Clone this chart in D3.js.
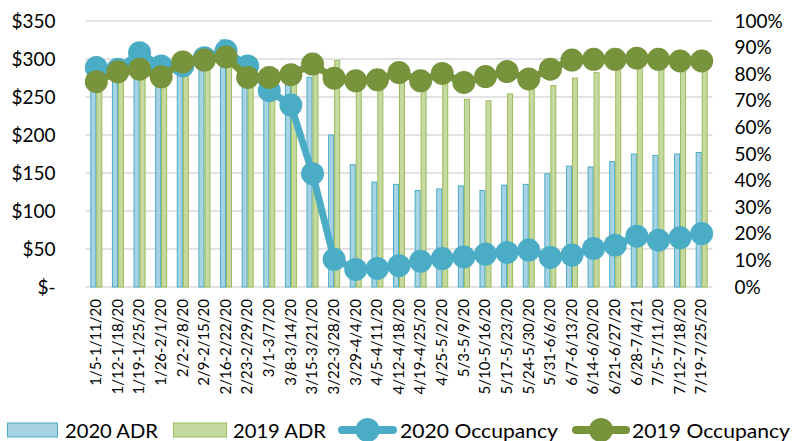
<!DOCTYPE html>
<html>
<head>
<meta charset="utf-8">
<script src="https://cdn.jsdelivr.net/npm/d3@7"></script>
<style>
  body { margin: 0; background: #fff; }
  svg { font-family: Lato, "Open Sans", sans-serif; }
</style>
</head>
<body>
<svg id="chart" width="793" height="441"></svg>
<script>
// Weekly periods
const weeks = [
  "1/5-1/11/20", "1/12-1/18/20", "1/19-1/25/20", "1/26-2/1/20", "2/2-2/8/20",
  "2/9-2/15/20", "2/16-2/22/20", "2/23-2/29/20", "3/1-3/7/20", "3/8-3/14/20",
  "3/15-3/21/20", "3/22-3/28/20", "3/29-4/4/20", "4/5-4/11/20", "4/12-4/18/20",
  "4/19-4/25/20", "4/25-5/2/20", "5/3-5/9/20", "5/10-5/16/20", "5/17-5/23/20",
  "5/24-5/30/20", "5/31-6/6/20", "6/7-6/13/20", "6/14-6/20/20", "6/21-6/27/20",
  "6/28-7/4/21", "7/5-7/11/20", "7/12-7/18/20", "7/19-7/25/20",
];

// ADR in dollars
const adr2020 = [285, 280, 290, 283, 290, 300, 325, 285, 262, 272, 276, 200, 161, 138, 135,
  127, 129, 133, 127, 134, 135, 149, 159, 158, 165, 175, 173, 175, 177];
const adr2019 = [280, 278, 285, 280, 290, 295, 300, 280, 270, 275, 280, 298, 265, 265, 270,
  265, 268, 247, 245, 254, 262, 265, 275, 282, 290, 292, 295, 294, 293];

// Occupancy in percent
const occ2020 = [82.5, 81.9, 88.1, 83.1, 83.1, 86.2, 88.8, 83.1, 73.8, 68.4, 42.6, 10.4, 6.6, 7.0, 8.0,
  9.7, 10.7, 11.3, 12.4, 13.0, 13.9, 11.1, 12.0, 14.5, 15.7, 19.1, 17.6, 18.5, 20.1];
const occ2019 = [77.2, 80.9, 81.9, 79.0, 84.6, 85.3, 86.5, 78.8, 78.8, 79.8, 83.8, 78.5, 77.5, 77.9, 80.6,
  77.5, 80.3, 76.9, 79.1, 81.0, 78.2, 81.9, 85.3, 85.6, 85.6, 86.0, 85.6, 85.0, 85.0];

const leftTicks = [0, 50, 100, 150, 200, 250, 300, 350];
const rightTicks = [0, 10, 20, 30, 40, 50, 60, 70, 80, 90, 100];

const BLUE = "#4bacc6";
const BLUE_FILL = "#a7d3e4";
const GREEN = "#77933c";
const GREEN_BAR = "#9bbb59";
const GREEN_FILL = "#c6d9a1";

const plot = { left: 85.5, right: 712.5, top: 21, bottom: 287 };

const svg = d3.select("#chart");

const x = d3.scaleBand().domain(weeks).range([plot.left, plot.right]).padding(0);
const yL = d3.scaleLinear().domain([0, 350]).range([plot.bottom, plot.top]);
const yR = d3.scaleLinear().domain([0, 100]).range([plot.bottom, plot.top]);
const cx = (w) => x(w) + x.bandwidth() / 2;
const barW = 6;

// gridlines
svg.append("g")
  .selectAll("line")
  .data(leftTicks)
  .enter()
  .append("line")
  .attr("x1", plot.left)
  .attr("x2", plot.right)
  .attr("y1", (d) => yL(d))
  .attr("y2", (d) => yL(d))
  .attr("stroke", "#d9d9d9")
  .attr("stroke-width", 1.5);

// left axis
const axL = svg.append("g")
  .attr("transform", `translate(${plot.left},0)`)
  .call(d3.axisLeft(yL).tickValues(leftTicks).tickSize(0).tickPadding(30)
    .tickFormat((d) => (d === 0 ? "$-" : "$" + d)));
axL.select(".domain").remove();
axL.selectAll("text").attr("font-size", 19).attr("font-family", "Lato").attr("fill", "#000");

// right axis
const axR = svg.append("g")
  .attr("transform", `translate(${plot.right},0)`)
  .call(d3.axisRight(yR).tickValues(rightTicks).tickSize(0).tickPadding(22)
    .tickFormat((d) => d + "%"));
axR.select(".domain").remove();
axR.selectAll("text").attr("font-size", 19).attr("font-family", "Lato").attr("fill", "#000");

// x labels
svg.append("g")
  .selectAll("text")
  .data(weeks)
  .enter()
  .append("text")
  .attr("transform", (d) => `translate(${cx(d) + 1},299) rotate(-90)`)
  .attr("text-anchor", "end")
  .attr("dominant-baseline", "middle")
  .attr("font-size", 15)
  .attr("fill", "#000")
  .text((d) => d);

// bars
svg.append("g")
  .selectAll("rect")
  .data(weeks)
  .enter()
  .append("rect")
  .attr("x", (d) => cx(d) - barW + 0.5)
  .attr("y", (d, i) => yL(adr2020[i]))
  .attr("width", barW - 1)
  .attr("height", (d, i) => plot.bottom - yL(adr2020[i]))
  .attr("fill", BLUE_FILL)
  .attr("stroke", BLUE)
  .attr("stroke-width", 1);

svg.append("g")
  .selectAll("rect")
  .data(weeks)
  .enter()
  .append("rect")
  .attr("x", (d) => cx(d) + 0.5)
  .attr("y", (d, i) => yL(adr2019[i]))
  .attr("width", barW - 1)
  .attr("height", (d, i) => plot.bottom - yL(adr2019[i]))
  .attr("fill", GREEN_FILL)
  .attr("stroke", GREEN_BAR)
  .attr("stroke-width", 1);

// occupancy lines
function drawLine(values, color) {
  const line = d3.line()
    .x((d, i) => cx(weeks[i]))
    .y((d) => yR(d));
  const g = svg.append("g");
  g.append("path")
    .attr("d", line(values))
    .attr("fill", "none")
    .attr("stroke", color)
    .attr("stroke-width", 7)
    .attr("stroke-linejoin", "round");
  g.selectAll("circle")
    .data(values)
    .enter()
    .append("circle")
    .attr("cx", (d, i) => cx(weeks[i]))
    .attr("cy", (d) => yR(d))
    .attr("r", 11.5)
    .attr("fill", color);
}
drawLine(occ2020, BLUE);
drawLine(occ2019, GREEN);

// legend
const legend = svg.append("g").attr("font-size", 20).attr("fill", "#000");
const ly = 430;
const addText = (tx, label, len) =>
  legend.append("text").attr("x", tx).attr("y", ly).attr("dominant-baseline", "central")
    .attr("textLength", len).attr("lengthAdjust", "spacingAndGlyphs").text(label);

legend.append("rect").attr("x", 7.5).attr("y", ly - 7).attr("width", 50).attr("height", 14)
  .attr("fill", BLUE_FILL).attr("stroke", BLUE);
addText(65, "2020 ADR", 93);
legend.append("rect").attr("x", 173.5).attr("y", ly - 7).attr("width", 53).attr("height", 14)
  .attr("fill", GREEN_FILL).attr("stroke", GREEN_BAR);
addText(233, "2019 ADR", 93);

[[338, 397, BLUE, "2020 Occupancy", 400], [572, 630, GREEN, "2019 Occupancy", 632]].forEach(
  ([x0, x1, color, label, tx]) => {
    legend.append("line").attr("x1", x0 + 4).attr("x2", x1 - 4).attr("y1", ly).attr("y2", ly)
      .attr("stroke", color).attr("stroke-width", 8).attr("stroke-linecap", "round");
    legend.append("circle").attr("cx", (x0 + x1) / 2).attr("cy", ly).attr("r", 12).attr("fill", color);
    addText(tx, label, 158);
  }
);
</script>
</body>
</html>
